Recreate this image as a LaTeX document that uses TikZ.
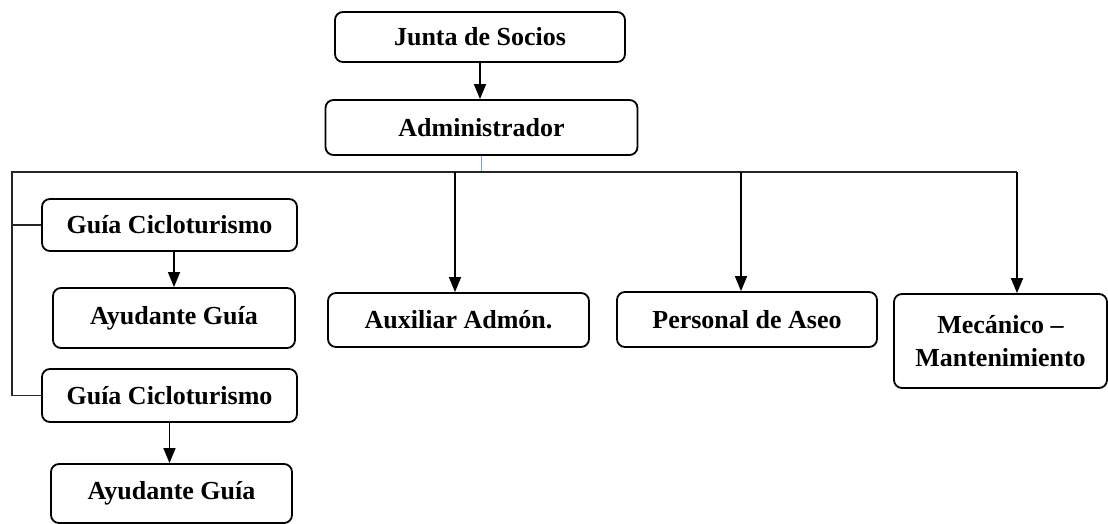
\documentclass[tikz,border=0pt]{standalone}
\usepackage{fontspec}
\setmainfont{Liberation Serif}
\usepackage{xcolor}
\usetikzlibrary{arrows.meta}

\definecolor{azulclaro}{RGB}{120,160,225}

\tikzset{
    cargo/.style={draw, rounded corners=4pt, line width=0.9pt, inner sep=0pt,
        align=center, font=\bfseries\fontsize{13}{16.5}\selectfont},
    linea/.style={line width=0.9pt, black!85},
    flecha/.style={line width=0.8pt, -{Triangle[length=7.5pt, width=6pt]}}
}

\begin{document}
\begin{tikzpicture}[x=0.5pt, y=-0.5pt]
    \useasboundingbox (0,0) rectangle (1108,524);

    % Direccion
    \node[cargo, minimum width=145pt, minimum height=25pt] (junta) at (480,37) {Junta de Socios};
    \node[cargo, minimum width=156pt, minimum height=27.5pt] (admin) at (481.5,127.5) {Administrador};

    % Guias (rama izquierda)
    \node[cargo, minimum width=127.5pt, minimum height=26pt] (guia1) at (169.5,225) {Guía Cicloturismo};
    \node[cargo, minimum width=121pt, minimum height=30pt] (ayud1) at (174,318) {Ayudante Guía};
    \node[cargo, minimum width=127.5pt, minimum height=26.5pt] (guia2) at (169.5,395.5) {Guía Cicloturismo};
    \node[cargo, minimum width=120.5pt, minimum height=29.5pt] (ayud2) at (171.5,493.5) {Ayudante Guía};

    % Demas cargos
    \node[cargo, minimum width=130.5pt, minimum height=27pt] (aux) at (458.5,320) {Auxiliar Admón.};
    \node[cargo, minimum width=130pt, minimum height=27.5pt] (aseo) at (747,319.5) {Personal de Aseo};
    \node[cargo, minimum width=106.5pt, minimum height=47pt] (meca) at (1000.5,341) {Mecánico –\\Mantenimiento};

    % Barra de distribucion
    \coordinate (busL) at (12,172);
    \coordinate (busA) at (455,172);
    \coordinate (busB) at (741,172);
    \coordinate (busR) at (1017,172);

    \draw[flecha] (junta.south) -- (junta.south |- admin.north);
    \draw[azulclaro, line width=0.8pt] (admin.south) -- (admin.south |- busR);
    \draw[linea] (guia2.west) -| (busL) -- (busR);
    \draw[linea] (guia1.west) -- (guia1.west -| busL);

    \draw[flecha] (busA) -- (busA |- aux.north);
    \draw[flecha] (busB) -- (busB |- aseo.north);
    \draw[flecha] (busR) -- (busR |- meca.north);

    \draw[flecha] (ayud1.north |- guia1.south) -- (ayud1.north);
    \draw[flecha] (guia2.south) -- (guia2.south |- ayud2.north);
\end{tikzpicture}
\end{document}
